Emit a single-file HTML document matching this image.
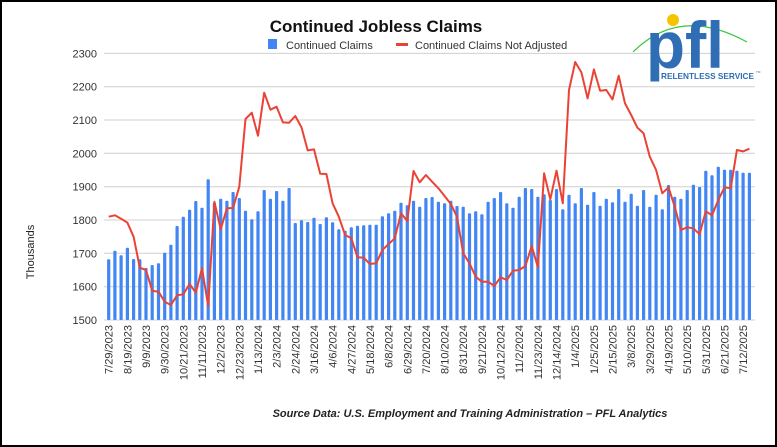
<!DOCTYPE html>
<html><head><meta charset="utf-8"><style>
html,body{margin:0;padding:0;background:#fff}
svg{display:block;font-family:"Liberation Sans",Arial,sans-serif}
</style></head><body>
<svg id="c" width="777" height="447" viewBox="0 0 777 447" xmlns="http://www.w3.org/2000/svg">
<rect x="1" y="1" width="775" height="445" fill="#fff" stroke="#000" stroke-width="2"/>
<text x="376" y="32" font-size="17" font-weight="bold" text-anchor="middle" fill="#111">Continued Jobless Claims</text>
<rect x="268" y="39" width="9" height="10" fill="#4285f4"/>
<text x="286" y="49" font-size="11" fill="#333">Continued Claims</text>
<rect x="396" y="43" width="12" height="3" fill="#ea4335"/>
<text x="415" y="49" font-size="11" fill="#333">Continued Claims Not Adjusted</text>
<text transform="translate(34,252) rotate(-90)" font-size="11" text-anchor="middle" fill="#222">Thousands</text>
<text x="470" y="417" font-size="11" font-weight="bold" font-style="italic" text-anchor="middle" fill="#222">Source Data: U.S. Employment and Training Administration – PFL Analytics</text>
<g id="g"></g>
<path d="M633 52 Q680 5 747 42" fill="none" stroke="#3cc43c" stroke-width="1.2"/>
<circle cx="673" cy="20" r="6" fill="#f5c400"/>
<text x="646" y="68" font-size="66" font-weight="bold" fill="#2f6db5" textLength="78" lengthAdjust="spacingAndGlyphs">pfl</text>
<text x="661" y="79" font-size="8.5" font-weight="bold" fill="#2f6db5" textLength="93" lengthAdjust="spacingAndGlyphs">RELENTLESS SERVICE</text>
<text x="756" y="73" font-size="3" fill="#2f6db5">TM</text>
</svg>
<script>
var bars=[1682,1708,1694,1717,1683,1682,1656,1665,1670,1702,1726,1782,1810,1831,1857,1837,1922,1852,1864,1858,1884,1866,1828,1802,1826,1890,1864,1887,1858,1896,1791,1799,1794,1807,1788,1808,1793,1772,1768,1778,1783,1784,1786,1786,1811,1820,1828,1852,1844,1858,1840,1866,1869,1855,1850,1858,1842,1840,1820,1826,1817,1855,1866,1884,1850,1837,1870,1896,1893,1870,1877,1860,1893,1832,1876,1850,1896,1846,1884,1843,1864,1853,1893,1855,1879,1843,1890,1840,1876,1832,1905,1870,1864,1890,1906,1899,1948,1934,1960,1951,1951,1948,1942,1942];
var line=[1810,1814,1804,1792,1750,1657,1650,1588,1585,1555,1545,1574,1577,1608,1582,1655,1542,1855,1772,1835,1836,1900,2103,2122,2053,2182,2131,2140,2093,2092,2112,2078,2009,2012,1939,1938,1850,1810,1755,1745,1688,1687,1668,1670,1710,1728,1745,1820,1797,1947,1913,1935,1915,1895,1872,1848,1810,1700,1670,1630,1615,1615,1602,1628,1620,1648,1650,1662,1722,1658,1940,1862,1948,1850,2190,2274,2243,2165,2252,2188,2190,2162,2233,2150,2115,2077,2060,1990,1950,1880,1898,1840,1770,1778,1775,1757,1826,1814,1860,1898,1895,2010,2006,2014];
var labels="7/29/2023,8/19/2023,9/9/2023,9/30/2023,10/21/2023,11/11/2023,12/2/2023,12/23/2023,1/13/2024,2/3/2024,2/24/2024,3/16/2024,4/6/2024,4/27/2024,5/18/2024,6/8/2024,6/29/2024,7/20/2024,8/10/2024,8/31/2024,9/21/2024,10/12/2024,11/2/2024,11/23/2024,12/14/2024,1/4/2025,1/25/2025,2/15/2025,3/8/2025,3/29/2025,4/19/2025,5/10/2025,5/31/2025,6/21/2025,7/12/2025".split(",");
function Y(v){return 320-(v-1500)*0.3333;}
function X(i){return 108.7+i*6.22;}
var s="";
for(var v=1500;v<=2300;v+=100){var y=Y(v).toFixed(1);
 s+='<line x1="104" x2="755" y1="'+y+'" y2="'+y+'" stroke="#d0d0d0" stroke-width="1"/>';
 s+='<text x="97" y="'+(+y+4)+'" font-size="11" text-anchor="end" fill="#333">'+v+'</text>';}
for(var i=0;i<bars.length;i++){var y=Y(bars[i]);
 s+='<rect x="'+(X(i)-1.6).toFixed(1)+'" y="'+y.toFixed(1)+'" width="3.2" height="'+(320-y).toFixed(1)+'" rx="1" fill="#4285f4"/>';}
var p="";for(var i=0;i<line.length;i++)p+=(i?"L":"M")+X(i).toFixed(1)+" "+Y(line[i]).toFixed(1);
s+='<path d="'+p+'" fill="none" stroke="#ea4335" stroke-width="2" stroke-linejoin="round"/>';
for(var k=0;k<labels.length;k++){var x=X(k*3)+4;
 s+='<text transform="translate('+x.toFixed(1)+',325) rotate(-90)" font-size="11" text-anchor="end" fill="#333">'+labels[k]+'</text>';}
document.getElementById("g").innerHTML=s;
</script>
</body></html>
